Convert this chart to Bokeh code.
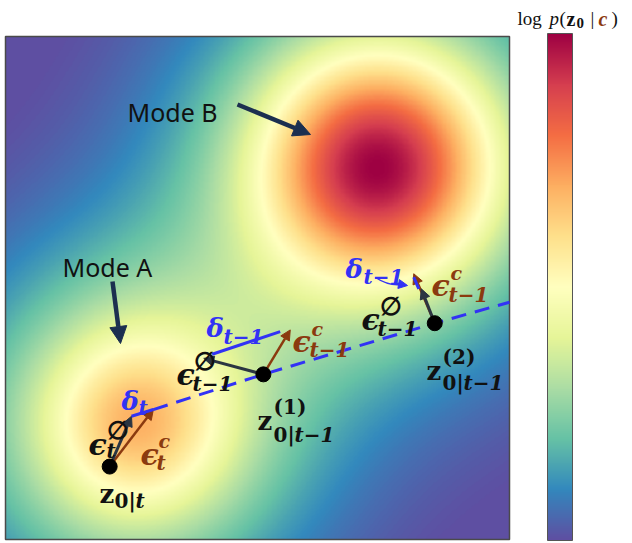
import numpy as np
from bokeh.plotting import figure
from bokeh.models import (Range1d, LinearColorMapper, ColorBar, FixedTicker, Arrow,
                          NormalHead, ColumnDataSource)
from bokeh.core.properties import field, value
from bokeh.embed import file_html
from bokeh.resources import INLINE

# ---------------- data (in data units, heat-map domain is [-3, 3] x [-3, 3]) -------------
mode_names = ["Mode A", "Mode B"]
mode_cx = [-1.45, 1.44]
mode_cy = [-1.62, 1.45]
mode_w_core = [0.29, 0.60]
mode_s_core = [0.78, 0.95]
mode_w_tail = [0.40, 0.40]
mode_s_tail = [1.49, 1.65]

# sampled points z_{0|t}, z^{(1)}_{0|t-1}, z^{(2)}_{0|t-1}
z_x = [-1.76, 0.07, 2.11]
z_y = [-2.13, -1.03, -0.42]
# tips of unconditional noise predictions (eps^null)
eu_x = [-1.50, -0.64, 1.95]
eu_y = [-1.53, -0.84, -0.01]
# tips of conditional noise predictions (eps^c)
ec_x = [-1.24, 0.39, 1.86]
ec_y = [-1.45, -0.50, 0.17]
# guidance differences delta
d_x0 = [-1.50, -0.54, 1.86]
d_y0 = [-1.53, -0.79, 0.13]
d_x1 = [-1.24, 0.27, 1.92]
d_y1 = [-1.45, -0.52, -0.01]
# guidance direction (dashed)
traj_x = [-1.24, 0.07, 2.11, 3.0]
traj_y = [-1.45, -1.03, -0.42, -0.17]

SPECTRAL11 = ['#5e4fa2', '#3288bd', '#66c2a5', '#abdda4', '#e6f598', '#ffffbf',
              '#fee08b', '#fdae61', '#f46d43', '#d53e4f', '#9e0142']

def make_palette(cols, n=256):
    rgb = np.array([[int(c[i:i + 2], 16) for i in (1, 3, 5)] for c in cols], float)
    t = np.linspace(0, 1, len(cols))
    tt = np.linspace(0, 1, n)
    out = []
    for v in tt:
        r, g, b = (np.interp(v, t, rgb[:, k]) for k in range(3))
        out.append("#%02x%02x%02x" % (int(round(r)), int(round(g)), int(round(b))))
    return out

palette = make_palette(SPECTRAL11)

# density field
gx = np.linspace(-3, 3, 400)
GX, GY = np.meshgrid(gx, gx)
F = np.zeros_like(GX)
for cx, cy, w1, s1, w2, s2 in zip(mode_cx, mode_cy, mode_w_core, mode_s_core, mode_w_tail, mode_s_tail):
    d2 = (GX - cx) ** 2 + (GY - cy) ** 2
    F += w1 * np.exp(-d2 / (2 * s1 ** 2)) + w2 * np.exp(-d2 / (2 * s2 ** 2))

mapper = LinearColorMapper(palette=palette, low=0.02, high=float(F.max()))

# ---------------- geometry helpers ------------------------------------------------------
W, H = 632, 543
SX = 84.0          # px per data unit (x)
SY = 503 / 6.0     # px per data unit (y)

def fx(px):
    return (px - 5) / SX - 3

def fy(py):
    return 3 - (py - 36) / SY

p = figure(width=W, height=H, output_backend="svg", toolbar_location=None,
           x_range=Range1d(fx(0), fx(W)), y_range=Range1d(fy(H), fy(0)),
           x_axis_location=None, y_axis_location=None, min_border=0,
           outline_line_color=None, background_fill_color="white",
           border_fill_color="white")
p.xgrid.visible = False
p.ygrid.visible = False

img = p.image(image=[F], x=-3, y=-3, dw=6, dh=6, color_mapper=mapper, level="image")
p.rect(x=0, y=0, width=6, height=6, fill_alpha=0, line_color="#4a4a4a", line_width=1.5,
       level="image")

cb = ColorBar(color_mapper=mapper, orientation="vertical", location=(547, 3),
              width=25, height=507, padding=0, margin=0, ticker=FixedTicker(ticks=[]),
              major_tick_line_color=None, minor_tick_line_color=None,
              major_label_text_font_size="0px", label_standoff=0,
              bar_line_color="#555555", bar_line_width=1,
              background_fill_alpha=0, border_line_color=None)
p.add_layout(cb)

DARK = "#111111"
ARROW_DARK = "#2b3542"
BROWN = "#8b3a0f"
BLUE = "#3232f5"
NAVY = "#1c2f50"

# eps arrows
ec_src = ColumnDataSource(dict(x0=z_x, y0=z_y, x1=ec_x, y1=ec_y))
eu_src = ColumnDataSource(dict(x0=z_x, y0=z_y, x1=eu_x, y1=eu_y))
p.add_layout(Arrow(source=ec_src, x_start="x0", y_start="y0", x_end="x1", y_end="y1",
                   line_color=BROWN, line_width=2.5, level="underlay",
                   end=NormalHead(size=10, fill_color=BROWN, line_color=BROWN)))
p.add_layout(Arrow(source=eu_src, x_start="x0", y_start="y0", x_end="x1", y_end="y1",
                   line_color=ARROW_DARK, line_width=3, level="underlay",
                   end=NormalHead(size=10, fill_color=ARROW_DARK, line_color=ARROW_DARK)))

# guidance direction and deltas
p.line(traj_x, traj_y, line_color=BLUE, line_width=3, line_dash="15 9")
p.segment(x0=d_x0, y0=d_y0, x1=d_x1, y1=d_y1, line_color=BLUE, line_width=3)

# sample points
p.scatter(z_x, z_y, size=15, color="black")

# mode annotation arrows
p.add_layout(Arrow(x_start=fx(237), y_start=fy(104), x_end=fx(310), y_end=fy(134),
                   line_color=NAVY, line_width=4.5,
                   end=NormalHead(size=17, fill_color=NAVY, line_color=NAVY)))
p.add_layout(Arrow(x_start=fx(112), y_start=fy(281), x_end=fx(120), y_end=fy(343),
                   line_color=NAVY, line_width=4.5,
                   end=NormalHead(size=17, fill_color=NAVY, line_color=NAVY)))

# small curved arrow near z^(2)
p.bezier(x0=[fx(375)], y0=[fy(277)], x1=[fx(401)], y1=[fy(284)],
         cx0=[fx(384)], cy0=[fy(283)], cx1=[fx(392)], cy1=[fy(285)],
         line_color=BLUE, line_width=1.5)
p.add_layout(Arrow(x_start=fx(398), y_start=fy(283.5), x_end=fx(407), y_end=fy(285),
                   line_color=BLUE, line_width=1.5,
                   end=NormalHead(size=9, fill_color=BLUE, line_color=BLUE)))

# ---------------- texts ---------------------------------------------------------------------
SERIF = "DejaVu Serif"
BI = "bold italic"
LS = "Liberation Serif"
pieces = [
    # z_{0|t}
    ("z", 99, 493, 26, "bold", DARK, SERIF),
    ("0|", 114, 500, 20, "bold", DARK, SERIF),
    ("t", 135, 500, 20, BI, DARK, SERIF),
    # eps_t^null
    ("ϵ", 88, 444, 30, BI, DARK, SERIF),
    ("∅", 106, 430, 25, "bold", DARK, SERIF),
    ("t", 106, 450, 20, BI, DARK, SERIF),
    # eps_t^c
    ("ϵ", 140, 454, 30, BI, BROWN, SERIF),
    ("c", 158, 440, 19, BI, BROWN, SERIF),
    ("t", 156, 462, 20, BI, BROWN, SERIF),
    # delta_t
    ("δ", 121, 400, 26, BI, BLUE, SERIF),
    ("t", 138, 407, 20, BI, BLUE, SERIF),
    # z1 group
    ("ϵ", 176, 374, 30, BI, DARK, SERIF),
    ("∅", 193, 361, 25, "bold", DARK, SERIF),
    ("t−1", 192, 383, 20, BI, DARK, SERIF),
    ("δ", 206, 327, 26, BI, BLUE, SERIF),
    ("t−1", 223, 336, 20, BI, BLUE, SERIF),
    ("ϵ", 292, 341, 30, BI, BROWN, SERIF),
    ("c", 311, 328, 19, BI, BROWN, SERIF),
    ("t−1", 309, 349, 20, BI, BROWN, SERIF),
    ("z", 257, 420, 26, "bold", DARK, SERIF),
    ("(1)", 273, 406, 20, "bold", DARK, SERIF),
    ("0|", 273, 434, 20, "bold", DARK, SERIF),
    ("t−1", 294, 434, 20, BI, DARK, SERIF),
    # z2 group
    ("z", 426, 370, 26, "bold", DARK, SERIF),
    ("(2)", 442, 356, 20, "bold", DARK, SERIF),
    ("0|", 442, 382, 20, "bold", DARK, SERIF),
    ("t−1", 463, 382, 20, BI, DARK, SERIF),
    ("δ", 345, 268, 26, BI, BLUE, SERIF),
    ("t−1", 363, 276, 20, BI, BLUE, SERIF),
    ("ϵ", 431, 285, 30, BI, BROWN, SERIF),
    ("c", 450, 272, 19, BI, BROWN, SERIF),
    ("t−1", 448, 294, 20, BI, BROWN, SERIF),
    ("ϵ", 361, 319, 30, BI, DARK, SERIF),
    ("∅", 379, 306, 25, "bold", DARK, SERIF),
    ("t−1", 377, 328, 20, BI, DARK, SERIF),
    # mode labels
    ("Mode B", 127, 111, 25, "normal", DARK, "Noto Sans"),
    ("Mode A", 62, 266, 25, "normal", DARK, "Noto Sans"),
    # colour bar title: log p(z0|c)
    ("log", 517, 18, 19, "normal", DARK, LS),
    ("p", 549, 18, 19, "italic", DARK, LS),
    ("(", 559, 18, 19, "normal", DARK, LS),
    ("z", 566, 18, 20, "bold", DARK, LS),
    ("0", 576, 22, 15, "bold", DARK, LS),
    ("|", 590, 18, 19, "normal", DARK, LS),
    ("c", 598, 18, 20, "bold italic", BROWN, LS),
    (")", 611, 18, 19, "normal", DARK, LS),
]
tsrc = ColumnDataSource(dict(
    x=[fx(q[1]) for q in pieces], y=[fy(q[2]) for q in pieces],
    text=[q[0] for q in pieces], size=["%dpx" % q[3] for q in pieces],
    style=[q[4] for q in pieces], color=[q[5] for q in pieces],
    font=[q[6] for q in pieces]))
p.text(x="x", y="y", text="text", source=tsrc, text_font=field("font"),
       text_font_size=field("size"), text_font_style=field("style"),
       text_color=field("color"), text_align="left", text_baseline="alphabetic")

open("out.html", "w").write(file_html(p, INLINE))
